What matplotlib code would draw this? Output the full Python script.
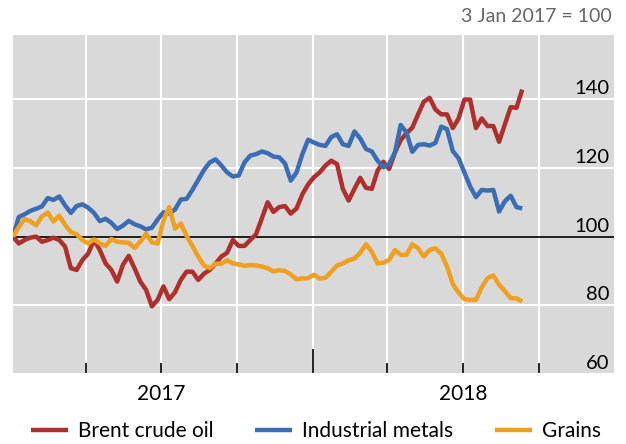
import matplotlib
matplotlib.use("Agg")
import matplotlib.pyplot as plt
import matplotlib.transforms as mtransforms
import pandas as pd

# weekly readings, 3 Jan 2017 = 100
dates = pd.date_range("2017-01-03", periods=89, freq="7D")

brent = [100.0, 98.0, 99.0, 99.7, 100.0, 98.5, 99.0, 99.7, 99.0, 97.1,
         90.8, 90.3, 93.2, 95.1, 99.0, 96.1, 92.2, 90.3, 86.9, 91.8,
         94.4, 90.8, 86.9, 84.5, 79.7, 81.6, 85.5, 81.8, 83.8, 87.4,
         89.8, 89.8, 87.4, 89.2, 90.3, 92.1, 94.2, 95.3, 99.0, 97.3,
         97.3, 99.0, 100.7, 105.3, 110.0, 107.2, 108.6, 108.9, 106.7, 108.2,
         112.3, 115.2, 117.3, 118.7, 120.7, 122.1, 121.1, 113.9, 110.5, 113.9,
         117.1, 114.2, 113.9, 119.2, 121.8, 119.7, 124.5, 128.1, 130.1, 131.7,
         135.6, 139.3, 140.4, 137.0, 135.6, 135.6, 131.6, 134.4, 139.9, 139.9,
         131.6, 134.4, 132.2, 132.2, 127.6, 132.7, 137.7, 137.5, 142.8]

metals = [100.0, 105.7, 106.5, 107.5, 108.1, 108.8, 111.2, 110.7, 111.7, 109.1,
          106.9, 108.9, 109.4, 108.4, 106.9, 104.5, 105.2, 104.0, 102.2, 103.2,
          104.6, 103.6, 103.0, 102.1, 102.6, 105.0, 107.1, 106.7, 107.9, 110.8,
          111.0, 113.6, 116.5, 119.4, 121.6, 122.5, 120.7, 118.7, 117.5, 117.8,
          121.6, 123.6, 124.0, 124.8, 124.3, 123.3, 123.1, 121.3, 116.3, 118.7,
          124.0, 128.2, 127.4, 126.7, 126.4, 129.0, 129.8, 126.9, 126.4, 130.6,
          128.6, 125.5, 124.8, 122.1, 120.2, 121.1, 124.5, 132.5, 130.3, 124.7,
          126.7, 126.9, 126.5, 127.3, 132.0, 131.3, 124.9, 122.8, 118.7, 114.6,
          111.5, 113.6, 113.4, 113.6, 107.3, 110.3, 111.9, 108.6, 108.2]

grains = [100.0, 102.8, 105.1, 104.5, 103.3, 105.9, 107.0, 104.4, 106.1, 103.4,
          101.3, 100.7, 99.0, 98.0, 99.2, 98.0, 97.3, 99.3, 98.5, 98.3,
          98.2, 96.7, 98.5, 100.9, 98.3, 98.0, 104.7, 108.6, 102.3, 103.8,
          100.2, 97.3, 94.2, 91.6, 90.8, 92.1, 92.1, 93.1, 92.2, 91.9,
          91.5, 91.7, 91.6, 91.3, 90.8, 89.9, 90.2, 90.0, 89.0, 87.6,
          87.8, 87.9, 88.9, 87.8, 88.0, 89.8, 91.6, 92.2, 93.1, 93.6,
          95.3, 97.8, 95.6, 92.2, 92.4, 93.2, 96.1, 94.7, 94.7, 97.8,
          96.6, 94.2, 96.1, 96.6, 95.0, 91.3, 86.2, 83.7, 81.8, 81.6,
          81.6, 85.2, 87.9, 88.7, 86.0, 84.1, 82.1, 82.0, 81.1]

series_names = ["Brent crude oil", "Industrial metals", "Grains"]
series_colors = ["#AE2F2C", "#3A6DB3", "#EFA01E"]
yticks = [60, 80, 100, 120, 140]
quarter_ticks = pd.to_datetime(["2017-04-01", "2017-07-01", "2017-10-01", "2018-01-01",
                                "2018-04-01", "2018-07-01", "2018-10-01"])
year_labels = ["2017", "2018"]
year_centres = pd.to_datetime(["2017-07-01", "2018-07-01"])

plt.rcParams["font.family"] = ["Lato", "DejaVu Sans"]

fig = plt.figure(figsize=(6.26, 4.44), dpi=100)
ax = fig.add_axes([13 / 626, (444 - 374) / 444, 601 / 626, (374 - 35) / 444])
ax.set_facecolor("#D9D9D9")
for s in ax.spines.values():
    s.set_visible(False)

for vals, name, col in zip([brent, metals, grains], series_names, series_colors):
    ax.plot(dates, vals, color=col, lw=3.2, label=name, zorder=3,
            solid_joinstyle="round", solid_capstyle="butt")

ax.axhline(100, color="black", lw=1.2, zorder=2)

ax.set_xlim(pd.Timestamp("2017-01-03"), pd.Timestamp("2018-12-31"))
ax.set_ylim(60, 158.7)

# grid lines
ax.set_yticks([v for v in yticks if v != 100])
ax.set_xticks(quarter_ticks)
ax.grid(True, color="white", lw=1.5, zorder=1)
ax.set_axisbelow(True)
ax.tick_params(axis="y", length=0, labelleft=False, labelright=False)
ax.tick_params(axis="x", direction="in", length=8, width=1.2,
               color="black", labelbottom=False)
for t, d in zip(ax.xaxis.get_major_ticks(), quarter_ticks):
    if d.month == 1:
        t.tick1line.set_markersize(18)

# year labels under the axis
xtrans = mtransforms.blended_transform_factory(ax.transData, ax.transAxes)
for d, lab in zip(year_centres, year_labels):
    ax.text(d, -0.058, lab, transform=xtrans, ha="center", va="center", fontsize=15)

# y labels inside plot on the right
trans = mtransforms.blended_transform_factory(ax.transAxes, ax.transData)
for v in yticks:
    ax.text(0.993, v + 0.6, str(v), transform=trans, ha="right", va="bottom",
            fontsize=14.5, color="black")

fig.text(612 / 626, 1 - 17 / 444, "3 Jan 2017 = 100", ha="right", va="center",
         fontsize=14, color="#666666")

fig.legend(loc="center", bbox_to_anchor=(0.505, 1 - 431 / 444), ncol=3, frameon=False,
           fontsize=15, handlelength=1.75, handletextpad=0.5, columnspacing=2.0)

fig.savefig("out.png", dpi=100)
